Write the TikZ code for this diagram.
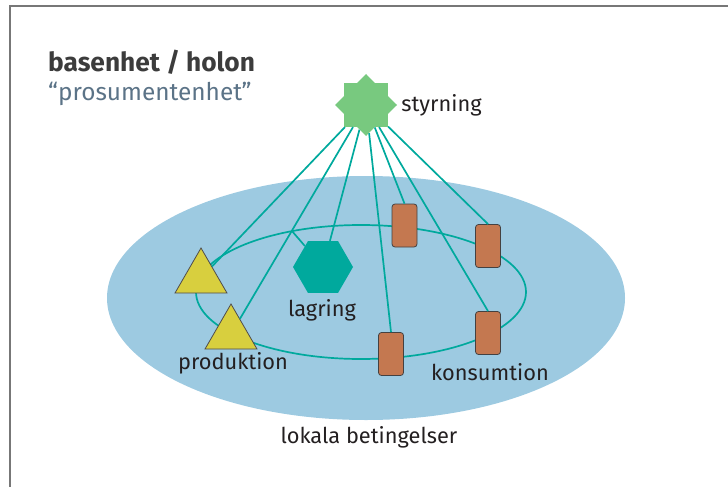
\documentclass[tikz,border=0pt]{standalone}
\usepackage{fontspec}
\setmainfont{Fira Sans}
\usetikzlibrary{positioning,shapes.geometric}
\definecolor{frameGrey}{HTML}{777777}
\definecolor{fieldBlue}{HTML}{9DCAE1}
\definecolor{linkTeal}{HTML}{00A99D}
\definecolor{starGreen}{HTML}{78C97F}
\definecolor{prodYellow}{HTML}{D8CF3E}
\definecolor{loadBrown}{HTML}{C47850}
\definecolor{inkBlack}{HTML}{231F20}
\definecolor{titleGrey}{HTML}{3C3C3C}
\definecolor{slateBlue}{HTML}{5B7387}

\tikzset{
  link/.style={draw=linkTeal,line width=1.7pt},
  prodtri/.style={regular polygon,regular polygon sides=3,minimum size=60pt,
    inner sep=0pt,fill=prodYellow,draw=inkBlack!80,line width=0.8pt},
  loadbox/.style={rectangle,rounded corners=3pt,minimum width=25pt,
    minimum height=43pt,inner sep=0pt,fill=loadBrown,draw=inkBlack!85,line width=0.8pt},
  lbl/.style={font=\fontsize{21.8}{24}\selectfont,text=inkBlack,inner sep=0pt},
}

\begin{document}
\begin{tikzpicture}[x=1pt,y=-1pt]
\useasboundingbox (0,0) rectangle (728,487);
% frame, open on the right and bottom
\draw[frameGrey,line width=2pt] (10,487) -- (10,6) -- (728,6);

% title
\node[anchor=base west,inner sep=0pt,text=titleGrey,
      font=\fontsize{26.3}{28}\selectfont\bfseries] (title) at (48,71) {basenhet / holon};
\node[anchor=base west,inner sep=0pt,text=slateBlue,
      font=\fontsize{24.4}{27}\selectfont] (subtitle) at (48,100) {``prosumentenhet''};

% local field and the ring inside it
\node[ellipse,fill=fieldBlue,minimum width=518pt,minimum height=244pt,inner sep=0pt] (field) at (366,298) {};
\node[ellipse,draw=linkTeal,line width=1.7pt,minimum width=330pt,minimum height=134pt,inner sep=0pt] (ring) at (361,292) {};
\path (ring.center) ++(114.7:165pt and 67pt) coordinate (tap);

% units on the ring
\node[prodtri] (prod1) at (201,278) {};
\node[prodtri] (prod2) at (231,334) {};
\node[regular polygon,regular polygon sides=6,minimum size=60pt,inner sep=0pt,fill=linkTeal] (store) at (323,267) {};
\node[loadbox] (load1) at (404.5,225.5) {};
\node[loadbox] (load2) at (488,246) {};
\node[loadbox] (load3) at (488,333) {};
\node[loadbox] (load4) at (391,354) {};

% control
\node[star,star points=8,star point ratio=1.31,minimum size=62pt,inner sep=0pt,fill=starGreen] (ctrl) at (366,105) {};
\node[lbl,anchor=west,right=4pt of ctrl] (ctrllbl) {styrning};

% links
\draw[link] (tap) -- (store);
\foreach \t in {prod1,prod2,store}
  \draw[link] (ctrl) -- (\t);
\foreach \t in {load1,load2,load3,load4}
  \draw[link] (ctrl) -- (\t.north);

% labels
\node[lbl] (storelbl) at (322,310) {lagring};
\node[lbl] (prodlbl) at (233,363) {produktion};
\node[lbl] (loadlbl) at (490,372) {konsumtion};
\node[lbl] (fieldlbl) at (369,437) {lokala betingelser};
\end{tikzpicture}
\end{document}
